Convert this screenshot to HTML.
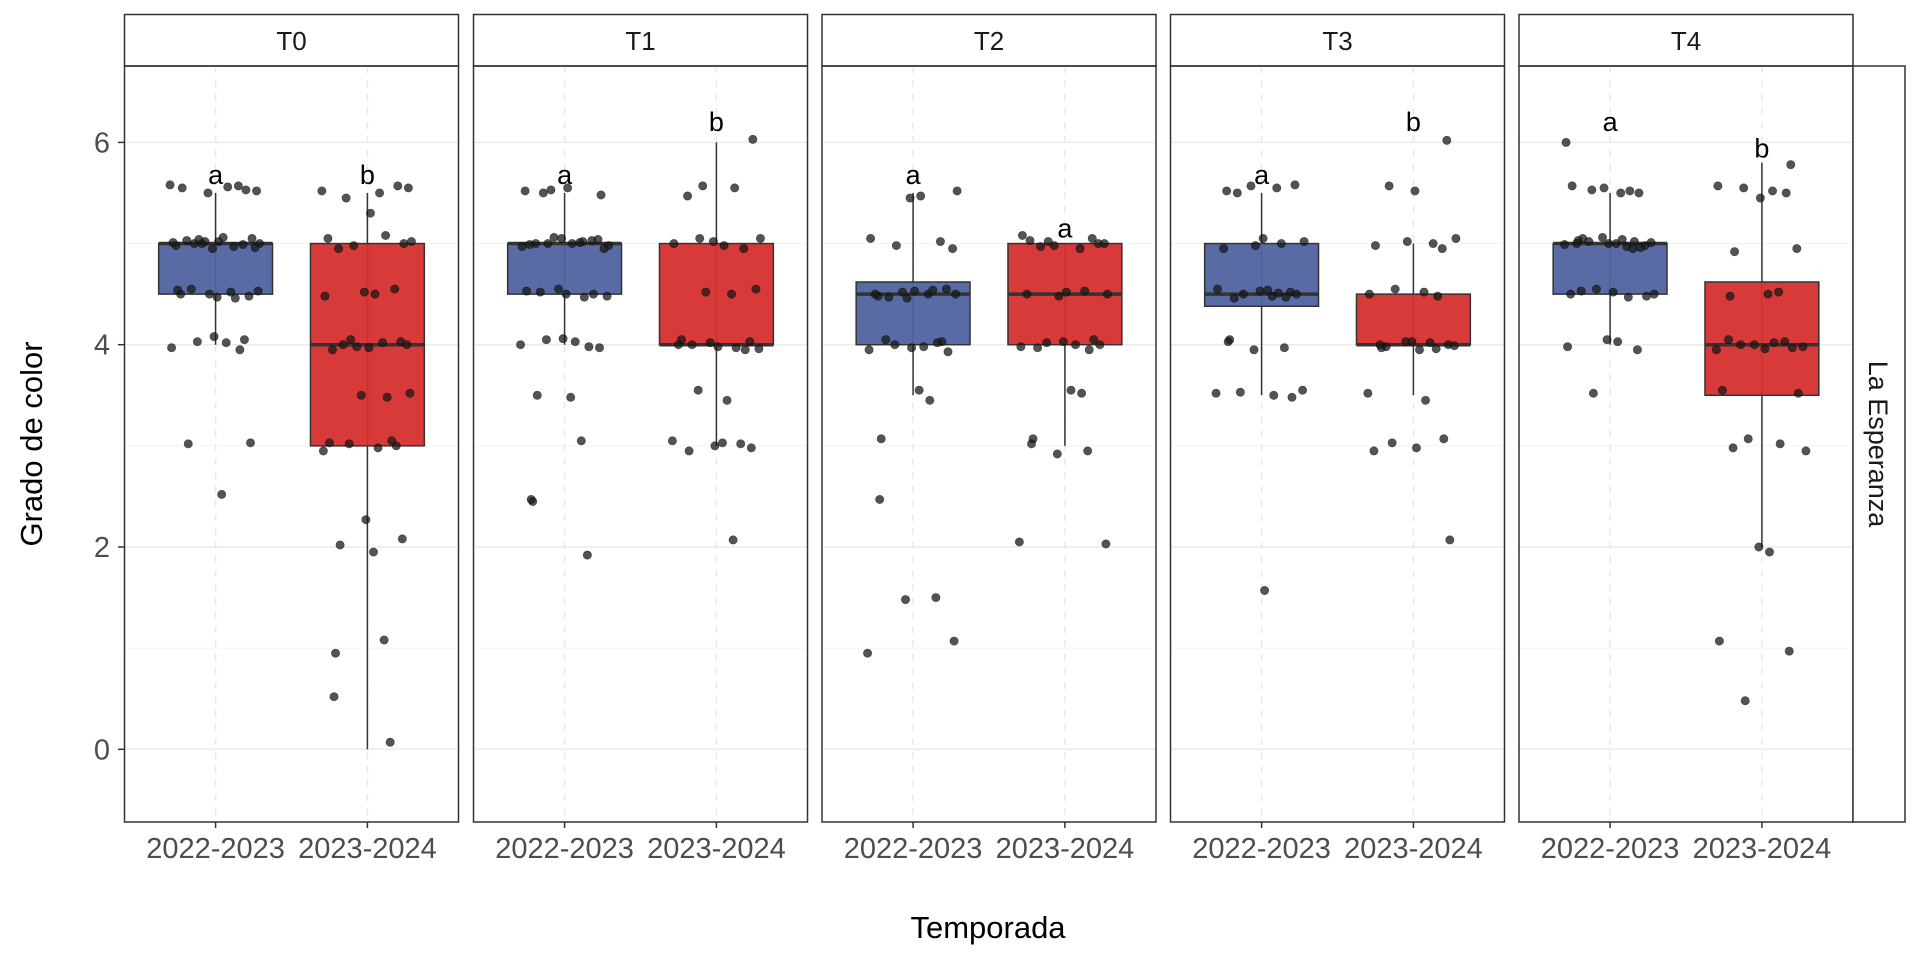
<!DOCTYPE html>
<html><head><meta charset="utf-8"><style>
html,body{margin:0;padding:0;background:#fff;}
svg{display:block;font-family:"Liberation Sans",Arial,sans-serif;}
</style></head><body>
<svg id="chart" width="1920" height="960" viewBox="0 0 1920 960"></svg>
<script>
const facets=["T0","T1","T2","T3","T4"];
const seasons=["2022-2023","2023-2024"];
const yTicks=[0,2,4,6];
// box stats per facet: [lo,q1,med,q3,hi]
const statsA=[[4,4.5,5,5,5.5],[4,4.5,5,5,5.5],[3.5,4,4.5,4.62,5.5],[3.5,4.38,4.5,5,5.5],[4,4.5,5,5,5.5]];
const statsB=[[0,3,4,5,5.5],[3,4,4,5,6],[3,4,4.5,5,5],[3.5,4,4,4.5,5],[2,3.5,4,4.62,5.8]];
const lettersA=["a","a","a","a","a"];
const lettersB=["b","b","a","b","b"];
const letterYA=[5.68,5.68,5.68,5.68,6.2];
const letterYB=[5.68,6.2,5.15,6.2,5.94];
const ptsA=[
[5.55,5.57,5.5,5.52,5.58,5.56,5.53,5.0,5.02,4.98,5.05,5.0,4.97,5.03,5.0,4.95,5.06,5.01,4.99,5.04,4.96,5.02,4.52,4.5,4.48,4.55,4.47,4.53,4.5,4.46,4.54,4.05,4.03,4.02,3.97,3.95,4.08,3.03,3.02,2.52],
[5.5,5.55,5.52,5.48,5.53,5.02,5.0,4.98,5.05,5.0,4.97,5.03,5.0,4.95,5.06,5.01,4.99,5.04,4.52,4.5,4.48,4.55,4.47,4.53,4.5,4.05,4.03,4.0,3.98,4.06,3.97,3.5,3.48,3.05,2.45,2.47,1.92],
[5.52,5.45,5.47,5.05,5.02,4.98,4.95,4.52,4.5,4.48,4.55,4.47,4.53,4.5,4.46,4.54,4.5,4.03,4.0,3.98,3.95,4.02,3.97,3.93,4.05,3.55,3.45,3.07,2.47,1.5,1.48,1.07,0.95],
[5.57,5.55,5.52,5.58,5.5,5.05,5.02,4.98,5.0,4.95,4.52,4.5,4.48,4.55,4.47,4.53,4.5,4.46,4.54,4.51,4.05,4.03,3.97,3.95,3.55,3.52,3.5,3.48,3.53,1.57],
[5.55,5.52,5.57,5.5,5.53,5.5,6.0,5.02,5.0,4.98,5.05,5.0,4.97,5.03,5.0,4.95,5.06,5.01,4.99,5.04,4.96,5.02,4.52,4.5,4.48,4.55,4.47,4.53,4.5,4.05,4.03,3.98,3.95,3.52]];
const ptsB=[
[5.55,5.52,5.5,5.57,5.45,5.3,5.05,5.0,4.98,5.08,4.95,5.02,4.52,4.5,4.48,4.55,4.05,4.0,3.98,4.02,3.95,4.03,4.0,3.97,3.52,3.5,3.48,3.03,3.0,3.02,2.98,2.95,3.05,2.27,2.08,2.02,1.95,1.08,0.95,0.52,0.07],
[6.03,5.57,5.55,5.47,5.05,5.02,4.98,5.0,4.95,5.05,4.55,4.52,4.5,4.05,4.03,4.0,3.98,3.96,4.02,3.97,4.0,3.95,3.55,3.45,3.05,3.02,3.0,2.98,2.95,3.03,2.07],
[5.08,5.05,5.02,5.0,4.98,4.95,5.03,5.0,4.97,4.52,4.5,4.48,4.53,4.5,4.05,4.02,4.0,3.98,3.95,4.03,4.0,3.97,3.55,3.52,3.07,3.02,2.95,2.92,2.03,2.05],
[6.02,5.57,5.52,5.05,5.02,5.0,4.98,4.95,4.55,4.52,4.5,4.48,4.03,4.0,3.98,3.95,4.02,3.97,4.0,3.96,4.03,3.99,3.52,3.45,3.07,3.03,2.98,2.95,2.07],
[5.78,5.55,5.52,5.57,5.5,5.45,4.95,4.92,4.5,4.52,4.48,4.05,4.03,4.0,3.98,3.95,4.02,3.97,4.0,3.96,3.55,3.52,3.07,3.02,2.98,2.95,2.0,1.95,1.07,0.97,0.48]];
const jit=[-0.22,0.15,-0.05,0.27,-0.3,0.08,0.2,-0.14,0.02,-0.26,0.24,-0.09,0.12,-0.19,0.29,-0.02,0.05,-0.28,0.18,-0.11,0.26,-0.07,0.1,-0.23,0.22,-0.16,0.01,0.28,-0.04,0.13,-0.25,0.19,-0.12,0.07,-0.29,0.16,-0.01,0.23,-0.18,0.04,0.11,-0.21];

const NS="http://www.w3.org/2000/svg";
const svg=document.getElementById('chart');
function mk(tag,attrs,parent){const e=document.createElementNS(NS,tag);for(const k in attrs)e.setAttribute(k,attrs[k]);(parent||svg).appendChild(e);return e;}
const panelL=[124.5,473.5,822,1170.5,1519],PW=334,PT=66,PB=822;
const y=v=>749.3-v*101.15;
function xs(p,c){return panelL[p]+(c-0.4)*PW/2.2;}
const fills=["#4f63a0","#d62f2f"];

facets.forEach((f,p)=>{
  const L=panelL[p];
  const g=mk('g',{});
  
  
  const st=mk('rect',{x:L,y:14.5,width:PW,height:51.5,fill:'#fff',stroke:'#333','stroke-width':1.5},g);
  
  
  const stt=mk('text',{x:L+PW/2,y:50,'text-anchor':'middle','font-size':26,fill:'#1a1a1a'},g);
  stt.textContent=f;
  
  
  [1,3,5].forEach(v=>mk('line',{x1:L,x2:L+PW,y1:y(v),y2:y(v),stroke:'#f3f3f3','stroke-width':1},g));
  yTicks.forEach(v=>mk('line',{x1:L,x2:L+PW,y1:y(v),y2:y(v),stroke:'#ebebeb','stroke-width':1.5},g));
  [1,2].forEach(c=>mk('line',{x1:xs(p,c),x2:xs(p,c),y1:PT,y2:PB,stroke:'#e8e8e8','stroke-width':1.5,'stroke-dasharray':'7,7'},g));
  [statsA[p],statsB[p]].forEach((s,ci)=>{
    const cx=xs(p,ci+1),hw=0.375*PW/2.2;
    const w=mk('line',{x1:cx,x2:cx,y1:y(s[0]),y2:y(s[4]),stroke:'#333','stroke-width':1.5},g);
    
    
    const b=mk('rect',{x:cx-hw,y:y(s[3]),width:2*hw,height:y(s[1])-y(s[3]),fill:fills[ci],stroke:'#333','stroke-width':1.5,'fill-opacity':0.95},g);
    
    
    mk('line',{x1:cx-hw,x2:cx+hw,y1:y(s[2]),y2:y(s[2]),stroke:'#333','stroke-width':3.5},g);
  });
  [ptsA[p],ptsB[p]].forEach((arr,ci)=>{
    arr.forEach((v,i)=>{
      const c=mk('circle',{cx:xs(p,ci+1)+jit[(i+p*7+ci*3)%jit.length]*PW/2.2,cy:y(v),r:4.2,fill:'#1a1a1a','fill-opacity':0.75,stroke:'#000','stroke-opacity':0.5,'stroke-width':0.6},g);
      
      
    });
  });
  [[lettersA[p],letterYA[p]],[lettersB[p],letterYB[p]]].forEach((l,ci)=>{
    const t=mk('text',{x:xs(p,ci+1),y:y(l[1])+9,'text-anchor':'middle','font-size':27,fill:'#000'},g);
    t.textContent=l[0];
    
    
  });
  const fr=mk('rect',{x:L,y:PT,width:PW,height:PB-PT,fill:'none',stroke:'#333','stroke-width':1.5},g);
  
  
  seasons.forEach((s,ci)=>{
    mk('line',{x1:xs(p,ci+1),x2:xs(p,ci+1),y1:PB,y2:PB+6,stroke:'#333','stroke-width':1.5},g);
    const t=mk('text',{x:xs(p,ci+1),y:858,'text-anchor':'middle','font-size':29,fill:'#4d4d4d'},g);
    t.textContent=s;
    
    
  });
});
yTicks.forEach(v=>{
  mk('line',{x1:118,x2:124.5,y1:y(v),y2:y(v),stroke:'#333','stroke-width':1.5});
  const t=mk('text',{x:110,y:y(v)+10,'text-anchor':'end','font-size':29,fill:'#4d4d4d'});
  t.textContent=v;
  
  
});
const rs=mk('rect',{x:1853,y:66,width:52,height:756,fill:'#fff',stroke:'#333','stroke-width':1.5});


const rt=mk('text',{x:0,y:0,'text-anchor':'middle','font-size':27,fill:'#1a1a1a',transform:'translate(1869,444) rotate(90)'});
rt.textContent='La Esperanza';


const xt=mk('text',{x:988,y:938,'text-anchor':'middle','font-size':31,fill:'#000'});
xt.textContent='Temporada';


const yt=mk('text',{x:0,y:0,'text-anchor':'middle','font-size':31,fill:'#000',transform:'translate(42,444) rotate(-90)'});
yt.textContent='Grado de color';


</script>
</body></html>
